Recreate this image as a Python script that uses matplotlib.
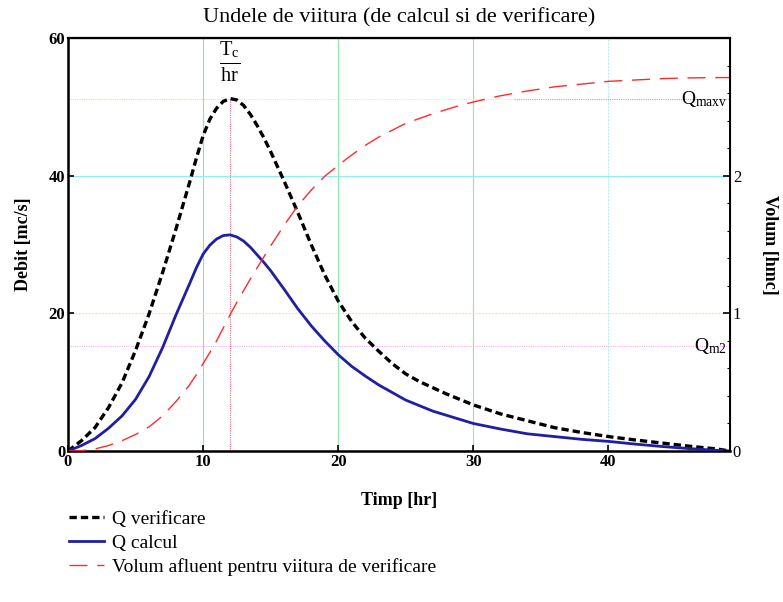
import matplotlib.pyplot as plt
from matplotlib.ticker import AutoMinorLocator

plt.rcParams['font.family'] = ['Liberation Serif', 'DejaVu Serif']
plt.rcParams['mathtext.fontset'] = 'custom'
plt.rcParams['mathtext.rm'] = 'Liberation Serif'
plt.rcParams['mathtext.it'] = 'Liberation Serif:italic'
plt.rcParams['mathtext.bf'] = 'Liberation Serif:bold'

# timp [hr]
timp = [0, 1, 2, 3, 4, 5, 6, 7, 8, 9, 9.5, 10, 10.5, 11, 11.5, 12, 12.5, 13, 13.5,
        14, 14.5, 15, 16, 17, 18, 19, 20,
        21, 22, 23, 24, 25, 26, 27, 28, 29, 30, 32, 34, 36, 38, 40, 42, 44, 46, 48, 49]

# debit [mc/s]
q_verificare = [0.0, 1.5, 3.4, 6.3, 9.9, 14.6, 19.9, 25.9, 32.3, 39.0, 42.5, 45.8,
                48.2, 49.8, 50.8, 51.2, 51.0, 50.2, 48.9,
                47.3, 45.5, 43.5, 39.2, 34.7, 30.0, 25.6, 21.8,
                18.8, 16.4, 14.5, 12.7, 11.2, 10.1, 9.2, 8.3, 7.5, 6.7,
                5.4, 4.4, 3.4, 2.7, 2.1, 1.6, 1.15, 0.7, 0.3, 0.0]
q_calcul = [0.0, 0.8, 1.8, 3.3, 5.1, 7.5, 10.8, 15.0, 19.8, 24.3, 26.6, 28.6,
            29.9, 30.8, 31.3, 31.4, 31.1, 30.5, 29.6,
            28.5, 27.4, 26.2, 23.5, 20.7, 18.2, 16.0, 14.0,
            12.3, 10.9, 9.6, 8.5, 7.4, 6.6, 5.8, 5.2, 4.6, 4.0,
            3.2, 2.5, 2.1, 1.7, 1.4, 1.0, 0.65, 0.35, 0.1, 0.0]

# volum afluent [hmc]
volum = [0.0, 0.0025, 0.015, 0.04, 0.075, 0.12, 0.175, 0.255, 0.36, 0.48, 0.555, 0.635,
         0.715, 0.80, 0.895, 0.99, 1.08, 1.165, 1.25,
         1.33, 1.41, 1.49, 1.64, 1.78, 1.895, 1.995, 2.075,
         2.15, 2.22, 2.28, 2.33, 2.38, 2.415, 2.45, 2.48, 2.51, 2.535,
         2.58, 2.615, 2.645, 2.665, 2.685, 2.695, 2.705, 2.71, 2.7125, 2.7125]

tc = 12.0
q_maxv = 51.2
q_m2 = 15.2

fig = plt.figure(figsize=(7.83, 6.02), dpi=100)
ax = fig.add_axes([0.0868, 0.2508, 0.8455, 0.6861])
ax2 = ax.twinx()

# grila
for xv in [10, 20, 30]:
    ax.axvline(xv, color='#8fe8a8', lw=0.8, zorder=0)
ax.axvline(40, color='#b8f0e8', lw=0.8, ls=(0, (2, 1)), zorder=0)
ax.axhline(40, color='#8ff0f0', lw=0.8, zorder=0)
ax.axhline(20, color='#f0ec90', lw=0.8, ls=(0, (2, 1)), zorder=0)
ax.plot([0, tc], [q_maxv, q_maxv], color='#f0e070', lw=0.8, ls=(0, (1, 1)), zorder=0)
ax.plot([tc, 33], [q_maxv, q_maxv], color='#f4e8a0', lw=0.8, ls=(0, (1, 1)), zorder=0)
ax.plot([33, 49], [q_maxv, q_maxv], color='#f080f0', lw=0.8, ls=(0, (1, 1)), zorder=0)
ax.axhline(q_m2, color='#f0b0f0', lw=0.8, ls=(0, (1, 1)), zorder=0)
ax.plot([tc, tc], [0, q_maxv], color='#f06080', lw=0.8, ls=(0, (1, 1)), zorder=0)

l1, = ax.plot(timp, q_verificare, color='black', lw=2.4, dashes=(2.2, 1.2),
              label='Q verificare', zorder=3)
l2, = ax.plot(timp, q_calcul, color='#1f1fa0', lw=2.0,
              label='Q calcul', zorder=3)
l3, = ax2.plot(timp, volum, color='#ff2a2a', lw=1.0, dashes=(13, 7),
               label='Volum afluent pentru viitura de verificare')

ax.set_xlim(0, 49)
ax.set_ylim(0, 60)
ax2.set_ylim(0, 3)
ax.set_xticks([0, 10, 20, 30, 40])
ax.set_yticks([0, 20, 40, 60])
ax2.set_yticks([0, 1, 2])
ax2.yaxis.set_minor_locator(AutoMinorLocator(5))

ax.tick_params(direction='in', length=4, width=1.2, labelsize=12, pad=2)
ax2.tick_params(direction='in', length=5, width=1.2, labelsize=12, pad=2)
ax2.tick_params(which='minor', direction='in', length=2, width=0.8)
for lab in ax.get_xticklabels() + ax.get_yticklabels():
    lab.set_fontweight('bold')
for s in ['left', 'bottom']:
    ax.spines[s].set_linewidth(1.8)
ax.spines['top'].set_linewidth(1.6)
ax2.spines['right'].set_linewidth(1.4)

ax.set_xlabel('Timp [hr]', fontsize=13, fontweight='bold', labelpad=16)
ax.set_ylabel('Debit [mc/s]', fontsize=13, fontweight='bold', labelpad=12)
ax2.set_ylabel('Volum [hmc]', fontsize=13, fontweight='bold', labelpad=14, rotation=270,
               va='bottom')
fig.suptitle('Undele de viitura (de calcul si de verificare)', fontsize=16,
             y=0.987, va='top', x=0.51)

ax.text(tc, 56.5, r'$\frac{\mathrm{T_c}}{\mathrm{hr}}$', fontsize=21,
        ha='center', va='center')
ax.text(48.8, q_maxv, r'$\mathrm{Q_{maxv}}$', fontsize=14, ha='right', va='center')
ax.text(48.8, q_m2, r'$\mathrm{Q_{m2}}$', fontsize=14, ha='right', va='center')

fig.legend(handles=[l1, l2, l3], loc='upper left', bbox_to_anchor=(0.078, 0.165),
           frameon=False, fontsize=14, handlelength=1.8, handletextpad=0.4,
           labelspacing=0.32, borderaxespad=0)

fig.savefig('out.png', dpi=100)
